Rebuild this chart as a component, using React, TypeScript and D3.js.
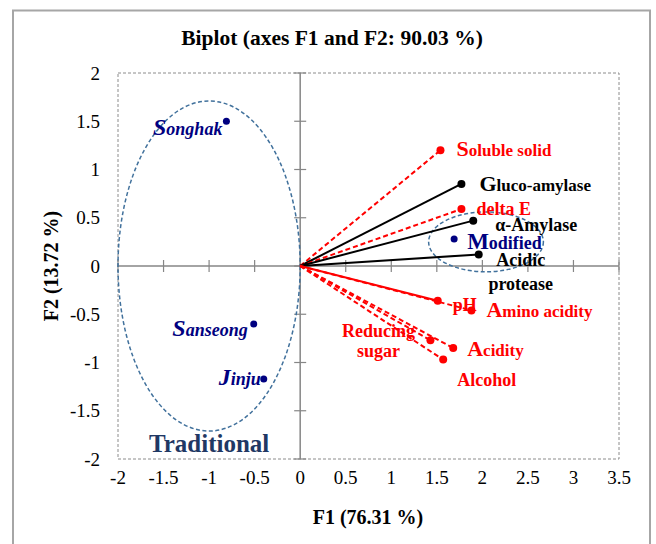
import React from "react";
import * as d3 from "d3";

// observations (scores)
const obsNames = ["Songhak", "Sanseong", "Jinju", "Modified"];
const obsF1 = [-0.81, -0.51, -0.4, 1.69];
const obsF2 = [1.5, -0.6, -1.17, 0.28];

// variables (loadings)
const varNames = [
  "Soluble solid",
  "Gluco-amylase",
  "delta E",
  "α-Amylase",
  "Acidic protease",
  "pH",
  "Amino acidity",
  "Reducing sugar",
  "Acidity",
  "Alcohol",
];
const varF1 = [1.54, 1.77, 1.77, 1.9, 1.96, 1.51, 1.88, 1.43, 1.68, 1.57];
const varF2 = [1.2, 0.85, 0.59, 0.47, 0.12, -0.36, -0.46, -0.77, -0.85, -0.97];

// group ellipses
const groupNames = ["Traditional", "Modified"];
const groupCx = [-1, 2.04];
const groupCy = [0, 0.25];
const groupRx = [1.0, 0.63];
const groupRy = [1.71, 0.31];

const xTicks = [-2, -1.5, -1, -0.5, 0, 0.5, 1, 1.5, 2, 2.5, 3, 3.5];
const yTicks = [-2, -1.5, -1, -0.5, 0, 0.5, 1, 1.5, 2];

// label layout / styles
const varStyle: Record<string, { color: string; dash: boolean; cap: boolean; dx: number; dy: number[]; anchor?: string; lines?: string[] }> = {
  "Soluble solid": { color: "#ff0000", dash: true, cap: true, dx: 16, dy: [6] },
  "Gluco-amylase": { color: "#000", dash: false, cap: true, dx: 18, dy: [7] },
  "delta E": { color: "#ff0000", dash: true, cap: false, dx: 15, dy: [6] },
  "α-Amylase": { color: "#000", dash: false, cap: false, dx: 22, dy: [10] },
  "Acidic protease": { color: "#000", dash: false, cap: false, dx: 42, dy: [12, 36], anchor: "middle", lines: ["Acidic", "protease"] },
  pH: { color: "#ff0000", dash: false, cap: false, dx: 15, dy: [10] },
  "Amino acidity": { color: "#ff0000", dash: true, cap: true, dx: 15, dy: [7] },
  "Reducing sugar": { color: "#ff0000", dash: true, cap: false, dx: -52, dy: [-3, 17], anchor: "middle", lines: ["Reducing", "sugar"] },
  Acidity: { color: "#ff0000", dash: true, cap: true, dx: 14, dy: [8] },
  Alcohol: { color: "#ff0000", dash: true, cap: false, dx: 14, dy: [26] },
};

const obsStyle: Record<string, { dx: number; dy: number; anchor: string; italic: boolean }> = {
  Songhak: { dx: -4, dy: 14, anchor: "end", italic: true },
  Sanseong: { dx: -6, dy: 12, anchor: "end", italic: true },
  Jinju: { dx: -3, dy: 6, anchor: "end", italic: true },
  Modified: { dx: 13, dy: 10, anchor: "start", italic: false },
};

const font = "Liberation Serif, Times New Roman, serif";
const navy = "#000080";

const App = () => {
  const x = d3.scaleLinear().domain([-2, 3.5]).range([118, 619]);
  const y = d3.scaleLinear().domain([-2, 2]).range([459, 73]);
  const x0 = x(0);
  const y0 = y(0);

  return (
    <svg
      width={656}
      height={544}
      style={{ position: "absolute", left: 0, top: 0, background: "#fff", fontFamily: font }}
    >
      {/* outer frame */}
      <rect x={13} y={10.5} width={637} height={545} fill="none" stroke="#a6a6a6" strokeWidth={2} />

      <text x={332} y={45} textAnchor="middle" fontSize={21.5} fontWeight="bold">
        Biplot (axes F1 and F2: 90.03 %)
      </text>

      {/* plot area */}
      <rect
        x={x(-2)}
        y={y(2)}
        width={x(3.5) - x(-2)}
        height={y(-2) - y(2)}
        fill="none"
        stroke="#8c8c8c"
        strokeWidth={1}
        strokeDasharray="3,2"
      />
      <line x1={x(-2)} x2={x(3.5)} y1={y0} y2={y0} stroke="#868686" strokeWidth={1.5} />
      <line x1={x0} x2={x0} y1={y(2)} y2={y(-2)} stroke="#868686" strokeWidth={1.5} />
      {xTicks.map((t) => (
        <line key={"xt" + t} x1={x(t)} x2={x(t)} y1={y0 - 6} y2={y0 + 6} stroke="#868686" strokeWidth={1.2} />
      ))}
      {yTicks.map((t) => (
        <line key={"yt" + t} x1={x0 - 6} x2={x0 + 6} y1={y(t)} y2={y(t)} stroke="#868686" strokeWidth={1.2} />
      ))}

      {xTicks.map((t) => (
        <text key={"xl" + t} x={x(t)} y={484} textAnchor="middle" fontSize={19}>
          {String(t)}
        </text>
      ))}
      {yTicks.map((t) => (
        <text key={"yl" + t} x={100} y={y(t) + 6.5} textAnchor="end" fontSize={19}>
          {String(t)}
        </text>
      ))}

      <text x={368} y={524} textAnchor="middle" fontSize={20} fontWeight="bold">
        F1 (76.31 %)
      </text>
      <text
        transform={`translate(58, ${y0}) rotate(-90)`}
        textAnchor="middle"
        fontSize={20}
        fontWeight="bold"
      >
        F2 (13.72 %)
      </text>

      {/* group ellipses */}
      {groupNames.map((g, i) => (
        <ellipse
          key={g}
          cx={x(groupCx[i])}
          cy={y(groupCy[i])}
          rx={x(groupCx[i] + groupRx[i]) - x(groupCx[i])}
          ry={y(groupCy[i]) - y(groupCy[i] + groupRy[i])}
          fill="none"
          stroke="#41719c"
          strokeWidth={1.5}
          strokeDasharray="4,2.5"
        />
      ))}
      <text x={x(groupCx[0])} y={452} textAnchor="middle" fontSize={25} fontWeight="bold" fill="#1f3864">
        {groupNames[0]}
      </text>

      {/* variable vectors */}
      {varNames.map((v, i) => {
        const s = varStyle[v];
        const px = x(varF1[i]);
        const py = y(varF2[i]);
        return (
          <g key={v}>
            <line
              x1={x0}
              y1={y0}
              x2={px}
              y2={py}
              stroke={s.color}
              strokeWidth={2}
              strokeDasharray={s.dash ? "5,3" : undefined}
            />
            <circle cx={px} cy={py} r={4} fill={s.color} />
          </g>
        );
      })}
      {varNames.map((v, i) => {
        const s = varStyle[v];
        const px = x(varF1[i]) + s.dx;
        const py = y(varF2[i]);
        const lines = s.lines ?? [v];
        return lines.map((ln, j) => (
          <text
            key={v + j}
            x={px}
            y={py + s.dy[j]}
            textAnchor={s.anchor ?? "start"}
            fontSize={s.cap ? 17 : 18}
            fontWeight="bold"
            fill={s.color}
          >
            {s.cap ? (
              <>
                <tspan fontSize={22}>{ln[0]}</tspan>
                {ln.slice(1)}
              </>
            ) : (
              ln
            )}
          </text>
        ));
      })}

      {/* observations */}
      {obsNames.map((o, i) => {
        const s = obsStyle[o];
        const px = x(obsF1[i]);
        const py = y(obsF2[i]);
        return (
          <g key={o}>
            <circle cx={px} cy={py} r={3.5} fill={navy} />
            <text
              x={px + s.dx}
              y={py + s.dy}
              textAnchor={s.anchor}
              fontSize={18}
              fontWeight="bold"
              fontStyle={s.italic ? "italic" : "normal"}
              fill={navy}
            >
              <tspan fontSize={s.italic ? 24 : 23}>{o[0]}</tspan>
              {o.slice(1)}
            </text>
          </g>
        );
      })}
    </svg>
  );
};

export default App;
